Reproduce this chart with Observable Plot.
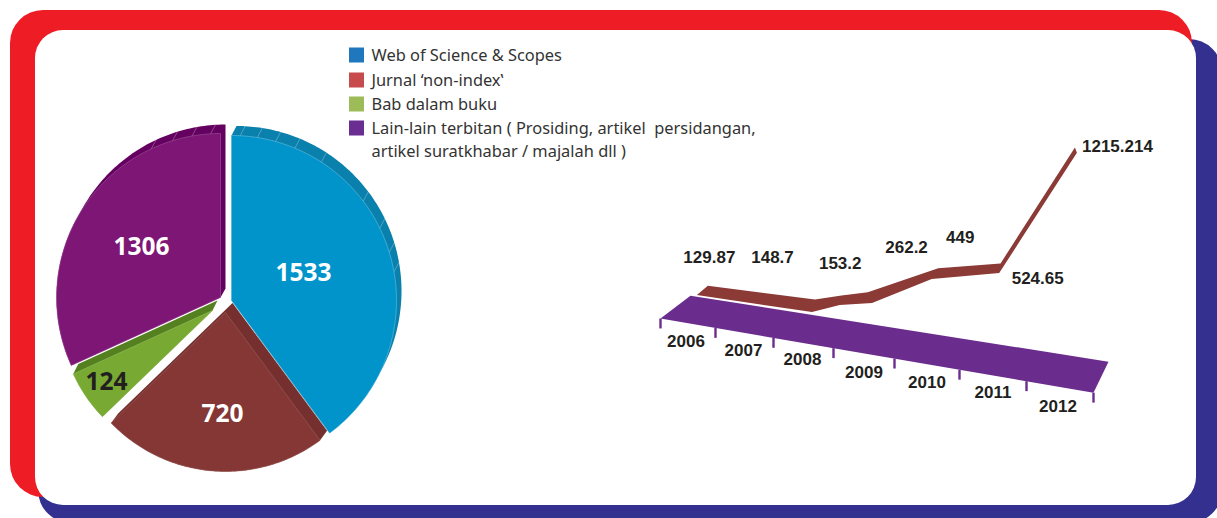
<!DOCTYPE html>
<html>
<head>
<meta charset="utf-8">
<script src="https://cdn.jsdelivr.net/npm/d3@7"></script>
<script src="https://cdn.jsdelivr.net/npm/@observablehq/plot@0.6"></script>
<style>
html,body{margin:0;padding:0;background:#fff;overflow:hidden;width:1217px;height:518px}
#chart{position:relative;width:1217px;height:518px}
#chart svg{position:absolute;left:0;top:0;background:transparent;white-space:pre}
</style>
</head>
<body>
<div id="chart"></div>
<script>
// ---------- data ----------
const legendLabels = ["Web of Science & Scopes", "Jurnal ‘non-index‛", "Bab dalam buku",
  "Lain-lain terbitan ( Prosiding, artikel  persidangan,", "artikel suratkhabar / majalah dll )"];
const pieValues = [1533, 720, 124, 1306];
// The artwork's slices are not strictly proportional: clockwise end angle of each
const pieEndAngles = [143.5, 226, 245.5, 360];
const years = [2006, 2007, 2008, 2009, 2010, 2011, 2012];
const yearValues = [129.87, 148.7, 153.2, 262.2, 449, 524.65, 1215.214];
const valueLabels = ["129.87", "148.7", "153.2", "262.2", "449", "524.65", "1215.214"];
// Where each vertex of the drawn ribbon sits along the year axis
const ribbonAt = [2006.67, 2008.65, 2009.11, 2009.64, 2010.58, 2011.60, 2012.76];
// Hand-drawn deviation of the ribbon from its value, in value units
const ribbonWobble = [0, -5, 52, -17, -25, -9, 0];

// ---------- styles and layout ----------
const faceColors = ["#0094cb", "#843734", "#77a933", "#7e1675"];
const rimColors = ["#0a80ad", "#752f2e", "#54801f", "#640060"];
const faceEdge = ["#7cc8e4", "#a36a66", "#a5c96e", "#a565a0"];
const labelColors = ["#fff", "#fff", "#231f20", "#fff"];
const sliceCenters = [[231, 300], [225, 312], [212, 310], [220, 297]];
const sliceRadii = [165, 159, 153, 164];
const rimOffsets = [[5, -9.5], [7, -9.5], [5, -10], [5, -9]];
const pieLabelPos = [[303, 273], [222, 414], [106, 382], [141, 247]];
const stripeAngles = [[3, 9, 15.5, 22.6, 33, 53, 64, 73, 80], [], [], [356.5, 350, 343, 335]];
const swatchColors = ["#1f78bd", "#c74b4d", "#9dbb58", "#6a2d92"];
const legendRows = [55, 80, 104, 128, 151];
const panels = [
  {x1: 38, y1: 39, x2: 1222, y2: 523, fill: "#33308f", r: 33},
  {x1: 10, y1: 10, x2: 1192, y2: 497, fill: "#ee1c25", r: 33},
  {x1: 35, y1: 30, x2: 1196, y2: 505, fill: "#ffffff", r: 28}
];
const tickPx = [660, 715, 773, 833, 894, 959, 1026, 1093];
const tickYears = [...years, 2013];
const pxPerValue = 0.191, floorTilt = 0.1713, baseLevel = 313.5, floorLevel = -23.6;
const ribbonLean = [0.2, 0.05, 0.03, -0.07, 0.1, 0.02, -0.03];
const ribbonRise = [58, 68, 52, 52, 63, 52, 26];
const floorAt = [2006, 2006.545, 2013.224, 2013];
const floorHeight = [floorLevel, 123, 152, floorLevel];
const tickLength = 52;
const valueNudge = [[12, -38], [-40, -55], [0, -42], [34, -56], [28, -42], [38, 5], [40, -7]];
const yearNudge = [[-2, 18], [-1, 18], [-1, 17], [0, 19], [0, 18], [0, 17], [-2, 20]];

const INK = "#231f20";
const rad = a => a * Math.PI / 180;
const polar = (c, r, a, off = [0, 0]) => [c[0] + off[0] + r * Math.sin(rad(a)), c[1] + off[1] - r * Math.cos(rad(a))];
function sector(c, r, a0, a1, off) {
  const pts = [[c[0] + (off ? off[0] : 0), c[1] + (off ? off[1] : 0)]];
  for (let a = a0; a < a1; a += 1) pts.push(polar(c, r, a, off));
  pts.push(polar(c, r, a1, off));
  return pts;
}
const startAngles = pieEndAngles.map((_, i) => i ? pieEndAngles[i - 1] : 0);
const closed = pts => [...pts, pts[0]];

// ---------- base layer: panels, pie, legend ----------
const baseMarks = [
  ...panels.map(p => Plot.rect([p], {x1: "x1", y1: "y1", x2: "x2", y2: "y2", fill: p.fill, rx: p.r}))
];
pieValues.forEach((v, i) => {
  const c = sliceCenters[i], r = sliceRadii[i], a0 = startAngles[i], a1 = pieEndAngles[i], o = rimOffsets[i];
  const face = sector(c, r, a0, a1);
  const rim = d3.polygonHull([...face, ...sector(c, r, a0, a1, o)]);
  baseMarks.push(Plot.line(closed(rim), {x: d => d[0], y: d => d[1], fill: rimColors[i], stroke: null, curve: "linear"}));
  const stripes = stripeAngles[i].map(a => ({from: polar(c, r, a), to: polar(c, r, a, o)}));
  baseMarks.push(Plot.link(stripes, {x1: d => d.from[0], y1: d => d.from[1], x2: d => d.to[0], y2: d => d.to[1],
    stroke: "#fff", strokeOpacity: 0.4, strokeWidth: 0.7}));
  baseMarks.push(Plot.line(closed(face), {x: d => d[0], y: d => d[1], fill: faceColors[i], stroke: faceEdge[i],
    strokeWidth: 0.5, curve: "linear"}));
  baseMarks.push(Plot.text([v], {x: pieLabelPos[i][0], y: pieLabelPos[i][1], text: d => String(d),
    fill: labelColors[i], fontSize: 24.5, fontWeight: 700, fontFamily: "'Open Sans'"}));
});
baseMarks.push(Plot.rect(swatchColors, {x1: 349, x2: 364, y1: (d, i) => legendRows[i] - 7.5, y2: (d, i) => legendRows[i] + 7.5, fill: d => d}));
baseMarks.push(Plot.text(legendLabels, {x: 371, y: (d, i) => legendRows[i], text: d => d, textAnchor: "start",
  fill: "#333", fontSize: 16.4, fontFamily: "'Noto Sans'"}));

const base = Plot.plot({
  width: 1217, height: 518, margin: 0,
  x: {domain: [0, 1217], range: [0, 1217], axis: null},
  y: {domain: [0, 518], range: [0, 518], axis: null},
  color: {type: "identity"},
  marks: baseMarks
});

// ---------- trend layer: sheared floor, ribbon, labels ----------
const xAt = d3.scaleLinear(tickYears, tickPx);
// Height lost to the floor's tilt at a given year, in value units
const shear = at => floorTilt * (xAt(at) - tickPx[0]) / pxPerValue;
const lift = (at, h) => h - shear(at);

const ribbon = yearValues.map((v, i) => ({
  x1: ribbonAt[i], y1: lift(ribbonAt[i], v + ribbonWobble[i]),
  x2: ribbonAt[i] + ribbonLean[i], y2: lift(ribbonAt[i] + ribbonLean[i], v + ribbonWobble[i] + ribbonRise[i])
}));
const floor = floorAt.map((at, i) => ({x: at, y: lift(at, floorHeight[i])}));
const textStyle = {fill: INK, fontSize: 17, fontWeight: 700, fontFamily: "'Liberation Sans'"};

const trend = Plot.plot({
  width: 1217, height: 518, margin: 0,
  x: {domain: tickYears, range: tickPx, type: "linear", axis: null},
  y: {domain: [0, 1000], range: [baseLevel, baseLevel - 1000 * pxPerValue], axis: null},
  marks: [
    Plot.area(ribbon, {x1: "x1", y1: "y1", x2: "x2", y2: "y2", fill: "#8b3a36", curve: "linear"}),
    Plot.line(closed(floor), {x: "x", y: "y", fill: "#6a2d8e", stroke: null, curve: "linear"}),
    Plot.link(tickYears, {x1: d => d, x2: d => d, y1: d => lift(d, floorLevel), y2: d => lift(d, floorLevel - tickLength),
      stroke: "#6a2d8e", strokeWidth: 2.4}),
    ...yearValues.map((v, i) => Plot.text([v], {
      x: ribbonAt[i], y: lift(ribbonAt[i], v + ribbonWobble[i]), text: () => valueLabels[i],
      dx: valueNudge[i][0], dy: valueNudge[i][1], ...textStyle
    })),
    ...years.map((yr, i) => Plot.text([yr], {
      x: yr + 0.5, y: lift(yr + 0.5, floorLevel), text: d => String(d),
      dx: yearNudge[i][0], dy: yearNudge[i][1], ...textStyle
    }))
  ]
});

document.getElementById("chart").append(base, trend);
</script>
</body>
</html>
